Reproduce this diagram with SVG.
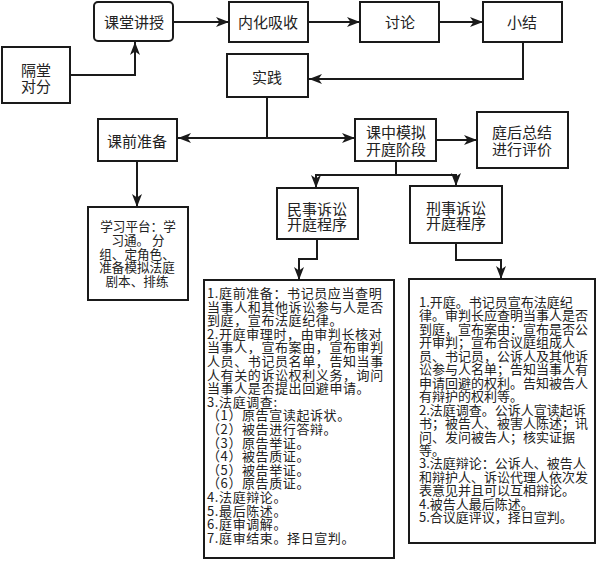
<svg xmlns="http://www.w3.org/2000/svg" width="600" height="561" viewBox="0 0 600 561">
<style>
.box{fill:#fff;stroke:#1a1a1a;stroke-width:2}
.lbl{font-family:"Noto Sans CJK SC","Noto Sans",sans-serif;font-size:15px;fill:#222;text-anchor:middle}
.sm{font-family:"Noto Sans CJK SC","Noto Sans",sans-serif;font-size:12.6px;fill:#222;text-anchor:middle}
.body{font-family:"Noto Sans CJK SC","Noto Sans",sans-serif;font-size:13px;fill:#222}
.conn path{fill:none;stroke:#1a1a1a;stroke-width:2;marker-end:url(#arr)}
</style>
<defs>
<marker id="arr" markerUnits="userSpaceOnUse" markerWidth="14" markerHeight="10" refX="13" refY="5" orient="auto">
<path d="M0,0 L13,5 L0,10 L3.5,5 z" fill="#1a1a1a"/>
</marker>
</defs>
<rect width="600" height="561" fill="#fff"/>
<g class="conn">
<path d="M70,75 H135 V42"/>
<path d="M174,22 H229"/>
<path d="M308,22 H360"/>
<path d="M439,22 H483"/>
<path d="M523,42 V79 H309"/>
<path d="M267,97 V138 H178"/>
<path d="M267,138 H355"/>
<path d="M436,140 H477"/>
<path d="M137,161 V207"/>
<path d="M396,161 V175 H316 V188"/>
<path d="M396,175 H456 V186"/>
<path d="M317,239 V259 H299 V280"/>
<path d="M456,243 V260 H501 V279"/>
</g>
<g id="gedui">
<rect class="box" x="2" y="47" width="68" height="56"/>
<text class="lbl" x="36" y="76">隔堂</text>
<text class="lbl" x="36" y="92">对分</text>
</g>
<g id="ketang">
<rect class="box" x="94" y="2" width="79" height="39" rx="4"/>
<text class="lbl" x="134" y="28">课堂讲授</text>
</g>
<g id="neihua">
<rect class="box" x="229" y="2" width="79" height="40"/>
<text class="lbl" x="268" y="28">内化吸收</text>
</g>
<g id="taolun">
<rect class="box" x="360" y="2" width="79" height="40"/>
<text class="lbl" x="400" y="28">讨论</text>
</g>
<g id="xiaojie">
<rect class="box" x="483" y="2" width="79" height="40"/>
<text class="lbl" x="522" y="28">小结</text>
</g>
<g id="shijian">
<rect class="box" x="227" y="54" width="81" height="43"/>
<text class="lbl" x="267" y="83">实践</text>
</g>
<g id="keqian">
<rect class="box" x="98" y="119" width="79" height="42"/>
<text class="lbl" x="137" y="147">课前准备</text>
</g>
<g id="kezhong">
<rect class="box" x="355" y="119" width="81" height="42"/>
<text class="lbl" x="396" y="138">课中模拟</text>
<text class="lbl" x="396" y="155">开庭阶段</text>
</g>
<g id="tinghou">
<rect class="box" x="477" y="112" width="91" height="56"/>
<text class="lbl" x="522" y="138">庭后总结</text>
<text class="lbl" x="522" y="155">进行评价</text>
</g>
<g id="minshi">
<rect class="box" x="277" y="188" width="81" height="51"/>
<text class="lbl" x="317" y="215">民事诉讼</text>
<text class="lbl" x="317" y="230">开庭程序</text>
</g>
<g id="xingshi">
<rect class="box" x="410" y="186" width="92" height="57"/>
<text class="lbl" x="456" y="214">刑事诉讼</text>
<text class="lbl" x="456" y="229">开庭程序</text>
</g>
<g id="xuexi">
<rect class="box" x="88" y="207" width="100" height="93"/>
<text class="sm" x="138" y="231">学习平台：学</text>
<text class="sm" x="138" y="245">习通。 分</text>
<text class="sm" x="137" y="259">组、定角色、</text>
<text class="sm" x="137" y="272">准备模拟法庭</text>
<text class="sm" x="137" y="286">剧本、排练</text>
</g>
<g id="minshi-detail">
<rect class="box" x="204" y="280" width="190" height="278"/>
<text class="body" x="207" y="298" letter-spacing="0.6">
<tspan x="207">1.庭前准备：书记员应当查明</tspan>
<tspan x="207" dy="13.6">当事人和其他诉讼参与人是否</tspan>
<tspan x="207" dy="13.6">到庭，宣布法庭纪律。</tspan>
<tspan x="207" dy="13.6">2.开庭审理时，由审判长核对</tspan>
<tspan x="207" dy="13.6">当事人，宣布案由，宣布审判</tspan>
<tspan x="207" dy="13.6">人员、书记员名单，告知当事</tspan>
<tspan x="207" dy="13.6">人有关的诉讼权利义务，询问</tspan>
<tspan x="207" dy="13.6">当事人是否提出回避申请。</tspan>
<tspan x="207" dy="13.6">3.法庭调查:</tspan>
<tspan x="207" dy="13.6">（1）原告宣读起诉状。</tspan>
<tspan x="207" dy="13.6">（2）被告进行答辩。</tspan>
<tspan x="207" dy="13.6">（3）原告举证。</tspan>
<tspan x="207" dy="13.6">（4）被告质证。</tspan>
<tspan x="207" dy="13.6">（5）被告举证。</tspan>
<tspan x="207" dy="13.6">（6）原告质证。</tspan>
<tspan x="207" dy="13.6">4.法庭辩论。</tspan>
<tspan x="207" dy="13.6">5.最后陈述。</tspan>
<tspan x="207" dy="13.6">6.庭审调解。</tspan>
<tspan x="207" dy="13.6">7.庭审结束。择日宣判。</tspan>
</text>
</g>
<g id="xingshi-detail">
<rect class="box" x="409" y="279" width="186" height="264"/>
<text class="body" x="419" y="307">
<tspan x="419">1.开庭。书记员宣布法庭纪</tspan>
<tspan x="419" dy="13.45">律。审判长应查明当事人是否</tspan>
<tspan x="419" dy="13.45">到庭，宣布案由：宣布是否公</tspan>
<tspan x="419" dy="13.45">开审判；宣布合议庭组成人</tspan>
<tspan x="419" dy="13.45">员、书记员，公诉人及其他诉</tspan>
<tspan x="419" dy="13.45">讼参与人名单；告知当事人有</tspan>
<tspan x="419" dy="13.45">申请回避的权利。告知被告人</tspan>
<tspan x="419" dy="13.45">有辩护的权利等。</tspan>
<tspan x="419" dy="13.45">2.法庭调查。公诉人宣读起诉</tspan>
<tspan x="419" dy="13.45">书；被告人、被害人陈述；讯</tspan>
<tspan x="419" dy="13.45">问、发问被告人；核实证据</tspan>
<tspan x="419" dy="13.45">等。</tspan>
<tspan x="419" dy="13.45">3.法庭辩论：公诉人、被告人</tspan>
<tspan x="419" dy="13.45">和辩护人、诉讼代理人依次发</tspan>
<tspan x="419" dy="13.45">表意见并且可以互相辩论。</tspan>
<tspan x="419" dy="13.45">4.被告人最后陈述。</tspan>
<tspan x="419" dy="13.45">5.合议庭评议，择日宣判。</tspan>
</text>
</g>
</svg>
